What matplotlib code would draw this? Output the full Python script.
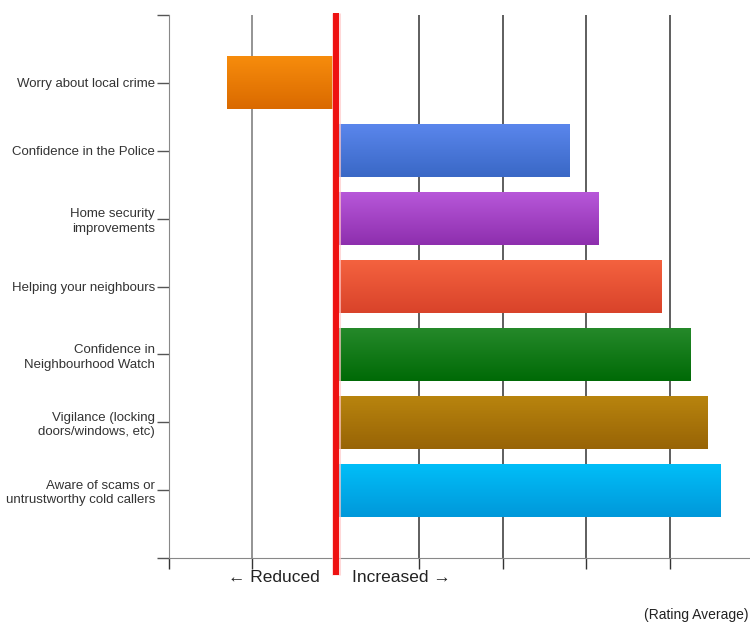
import numpy as np
import matplotlib
matplotlib.use("Agg")
import matplotlib.pyplot as plt
from matplotlib.colors import LinearSegmentedColormap
import matplotlib.transforms as mtransforms

categories = [
    "Worry about local crime",
    "Confidence in the Police",
    "Home security\nimprovements",
    "Helping your neighbours",
    "Confidence in\nNeighbourhood Watch",
    "Vigilance (locking\ndoors/windows, etc)",
    "Aware of scams or\nuntrustworthy cold callers",
]
values = [-1.30, 2.80, 3.15, 3.90, 4.25, 4.45, 4.61]
top_colors = ["#F78C0C", "#5A86EC", "#B757D9", "#F4623F", "#25892A", "#B8840E", "#00BEF8"]
bottom_colors = ["#DA6A00", "#3A68C6", "#8E2FAE", "#D9432A", "#006A06", "#986406", "#0098DA"]
grid_values = [-2, -1, 0, 1, 2, 3, 4, 5]

plt.rcParams['font.family'] = ['Liberation Sans', 'DejaVu Sans']

fig = plt.figure(figsize=(7.5, 6.23), dpi=100)
ax = fig.add_axes([169 / 750, 1 - 558 / 623, (753 - 169) / 750, (558 - 15) / 623])

positions = np.arange(1, len(categories) + 1)
bar_h = 0.78
grad = np.linspace(0, 1, 64).reshape(-1, 1)
for pos, val, ct, cb in zip(positions, values, top_colors, bottom_colors):
    cmap = LinearSegmentedColormap.from_list("g", [ct, cb])
    x0, x1 = min(0, val), max(0, val)
    ax.imshow(grad, cmap=cmap, origin="lower", aspect="auto",
              extent=[x0, x1, pos - bar_h / 2, pos + bar_h / 2], zorder=3,
              interpolation="bilinear")

for g in grid_values:
    if g == 0:
        continue
    col = "#777777" if g < 0 else "#333333"
    ax.axvline(g, color=col, lw=1.1, zorder=1)

ax.set_xlim(-2, 5.0)
ax.set_ylim(8, 0)

# red centre line with soft glow, extending beyond axes
trans = mtransforms.blended_transform_factory(ax.transData, ax.transAxes)
ax.plot([0, 0], [-0.032, 1.004], color="#FFC8C8", lw=6.5, alpha=0.7, transform=trans,
        clip_on=False, zorder=4, solid_capstyle="butt")
ax.plot([0, 0], [-0.032, 1.004], color="#EE1111", lw=4.3, transform=trans,
        clip_on=False, zorder=5, solid_capstyle="butt")

ax.set_yticks(np.arange(0, 9))
ax.set_yticklabels([""] + categories + [""], fontsize=9.5, color="#333333",
                   linespacing=1.3)
ax.set_xticks(grid_values)
ax.set_xticklabels([])
ax.tick_params(axis="y", length=9, width=1, color="#555555", pad=1)
ax.tick_params(axis="x", length=8, width=1, color="#333333")

for s in ["top", "right"]:
    ax.spines[s].set_visible(False)
ax.spines["left"].set_color("#888888")
ax.spines["bottom"].set_color("#888888")

fig.text(274 / 750, 1 - 578 / 623, "\u2190 Reduced", ha="center", va="center",
         fontsize=12.5, color="#222222")
fig.text(401 / 750, 1 - 578 / 623, "Increased \u2192", ha="center", va="center",
         fontsize=12.5, color="#222222")
fig.text(748 / 750, 1 - 615 / 623, "(Rating Average)", ha="right", va="center",
         fontsize=10, color="#222222")

fig.savefig("out.png", dpi=100)
